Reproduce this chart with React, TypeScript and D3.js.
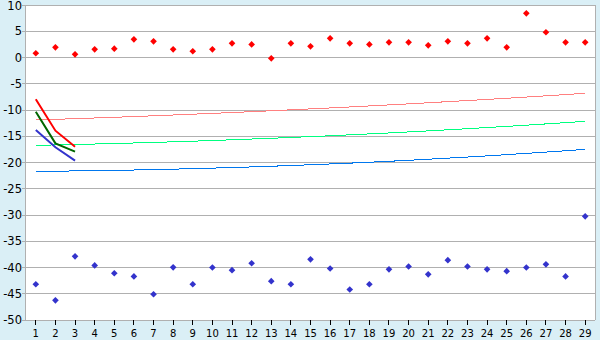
import React from "react";
import * as d3 from "d3";

const categories = Array.from({ length: 29 }, (_, i) => String(i + 1));
const yTicks = [10, 5, 0, -5, -10, -15, -20, -25, -30, -35, -40, -45, -50];

const redPoints = [0.8, 1.94, 0.6, 1.56, 1.68, 3.46, 3.08, 1.56, 1.18, 1.56, 2.7, 2.5, -0.16, 2.7, 2.13, 3.65, 2.7, 2.5, 2.89, 2.89, 2.32, 3.08, 2.7, 3.65, 1.94, 8.41, 4.8, 2.89, 2.89];
const bluePoints = [-43.2, -46.25, -37.87, -39.6, -41.1, -41.7, -45.1, -39.97, -43.2, -40.0, -40.5, -39.2, -42.6, -43.2, -38.45, -40.2, -44.2, -43.2, -40.35, -39.8, -41.3, -38.6, -39.8, -40.35, -40.7, -40.0, -39.4, -41.7, -30.25];

const redTrend = [-11.9, -11.78, -11.65, -11.52, -11.39, -11.25, -11.1, -10.95, -10.8, -10.64, -10.48, -10.32, -10.15, -9.97, -9.79, -9.61, -9.42, -9.23, -9.03, -8.83, -8.62, -8.41, -8.2, -7.98, -7.76, -7.53, -7.3, -7.06, -6.82];
const greenTrend = [-16.73, -16.65, -16.57, -16.48, -16.38, -16.28, -16.17, -16.06, -15.94, -15.81, -15.67, -15.53, -15.39, -15.23, -15.07, -14.91, -14.73, -14.55, -14.37, -14.18, -13.98, -13.77, -13.56, -13.34, -13.12, -12.89, -12.65, -12.41, -12.16];
const blueTrend = [-21.68, -21.65, -21.61, -21.56, -21.5, -21.43, -21.35, -21.27, -21.17, -21.07, -20.96, -20.84, -20.71, -20.58, -20.43, -20.28, -20.12, -19.95, -19.77, -19.58, -19.38, -19.17, -18.96, -18.74, -18.5, -18.26, -18.01, -17.76, -17.49];

const redShort = [-7.96, -13.94, -16.99];
const greenShort = [-10.32, -16.35, -17.94];
const blueShort = [-13.81, -17.11, -19.65];

const W = 600;
const H = 340;
const L = 26;
const R = 595;
const T = 5;
const B = 320;

export default function App() {
  const x = d3.scaleBand<string>().domain(categories).range([L, R]).padding(0);
  const cx = (i: number) => (x(categories[i]) as number) + x.bandwidth() / 2;
  const y = d3.scaleLinear().domain([-50, 10]).range([B, T]);
  const line = d3
    .line<number>()
    .x((_, i) => cx(i))
    .y((d) => y(d));
  const marker = d3.symbol().type(d3.symbolSquare).size(22)() as string;
  const snap = (v: number) => Math.round(v) + 0.5;
  const font = "DejaVu Sans, Verdana, sans-serif";

  return (
    <svg width={W} height={H} style={{ position: "absolute", left: 0, top: 0 }}>
      <rect x={0} y={0} width={W} height={H} fill="#daeff6" />
      <rect x={L} y={T} width={R - L} height={B - T} fill="#ffffff" />
      {yTicks.map((t) => (
        <g key={t}>
          <line x1={L - 4} x2={R} y1={snap(y(t) - 0.5)} y2={snap(y(t) - 0.5)} stroke="#b0b0b0" strokeWidth={1} />
          <text x={22} y={Math.max(y(t), 6)} dy="0.36em" textAnchor="end" fontFamily={font} fontSize={11.5} fill="#000">
            {t < 0 ? "-" + Math.abs(t) : String(t)}
          </text>
        </g>
      ))}
      <line x1={L - 0.5} x2={L - 0.5} y1={T} y2={B} stroke="#b0b0b0" />
      <line x1={R + 0.5} x2={R + 0.5} y1={T} y2={B} stroke="#b0b0b0" />
      {categories.map((c, i) => (
        <g key={c}>
          <line x1={snap(cx(i) - 0.5)} x2={snap(cx(i) - 0.5)} y1={B} y2={B + 5} stroke="#000" />
          <text x={cx(i)} y={337} textAnchor="middle" fontFamily={font} fontSize={10} fill="#000">
            {c}
          </text>
        </g>
      ))}
      <path d={line(redTrend) as string} fill="none" stroke="#ff8080" strokeWidth={1} shapeRendering="crispEdges" />
      <path d={line(greenTrend) as string} fill="none" stroke="#00ff80" strokeWidth={1} shapeRendering="crispEdges" />
      <path d={line(blueTrend) as string} fill="none" stroke="#0077ee" strokeWidth={1} shapeRendering="crispEdges" />
      <path d={line(redShort) as string} fill="none" stroke="#ff0000" strokeWidth={2} />
      <path d={line(greenShort) as string} fill="none" stroke="#006600" strokeWidth={2} />
      <path d={line(blueShort) as string} fill="none" stroke="#3333cc" strokeWidth={2} />
      {redPoints.map((v, i) => (
        <path key={"r" + i} d={marker} transform={`translate(${cx(i)},${y(v)}) rotate(45)`} fill="#ff0000" />
      ))}
      {bluePoints.map((v, i) => (
        <path key={"b" + i} d={marker} transform={`translate(${cx(i)},${y(v)}) rotate(45)`} fill="#3333cc" />
      ))}
    </svg>
  );
}
